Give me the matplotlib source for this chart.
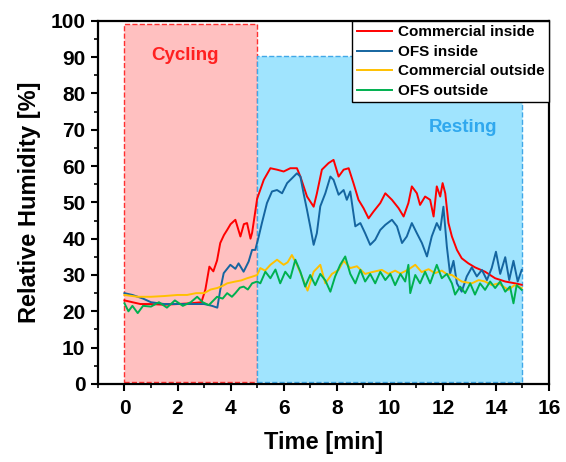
import matplotlib
matplotlib.use("Agg")
import matplotlib.pyplot as plt
from matplotlib.patches import Rectangle
from matplotlib.ticker import MultipleLocator

plt.rcParams['font.family'] = ['Liberation Sans', 'DejaVu Sans']
plt.rcParams['font.weight'] = 'bold'

# time [min] and relative humidity [%]
t_com_in = [0, 0.3, 0.6, 1.0, 1.5, 2.0, 2.5, 2.9, 3.05, 3.2, 3.35, 3.49, 3.61, 3.75,
            3.87, 4.0, 4.18, 4.37, 4.5, 4.62, 4.75, 4.81, 4.9, 5.0, 5.25, 5.5, 5.75,
            6.0, 6.25, 6.5, 6.63, 6.88, 7.13, 7.25, 7.44, 7.69, 7.88, 8.07, 8.26,
            8.45, 8.63, 8.82, 9.01, 9.2, 9.39, 9.64, 9.83, 10.08, 10.33, 10.52, 10.7,
            10.83, 11.02, 11.14, 11.33, 11.52, 11.65, 11.77, 11.9, 11.99, 12.09,
            12.21, 12.34, 12.53, 12.71, 12.96, 13.21, 13.59, 13.97, 14.35, 14.72, 14.97]
rh_com_in = [23, 22.5, 22, 22, 21.8, 22, 22.2, 22.5, 26, 32.3, 31, 34, 38.8, 41,
             42.4, 44, 45.2, 40.6, 44, 44.3, 40, 41.6, 46, 51, 56.2, 59.4, 59,
             58.5, 59.4, 59.4, 57.1, 51.6, 48.8, 52.4, 59, 60.8, 61.7, 57.1, 59,
             59.4, 55.3, 50.7, 48.4, 45.6, 47.5, 49.8, 52.5, 50.7, 48.4, 46.1, 49.8,
             54.4, 52.5, 49.3, 51.6, 50.7, 46.1, 54.4, 51.6, 55.3, 52.5,
             44.3, 40.6, 36.9, 34.6, 33.2, 32.1, 30.9, 29.1, 28.2, 27.7, 27.3]

t_ofs_in = [0, 0.3, 0.7, 1.0, 1.5, 2.0, 2.5, 3.0, 3.3, 3.5, 3.61, 3.74, 3.99, 4.18,
            4.3, 4.49, 4.68, 4.81, 4.93, 5.06, 5.18, 5.37, 5.56, 5.75, 5.94, 6.13,
            6.31, 6.5, 6.63, 6.75, 6.88, 7.0, 7.13, 7.25, 7.38, 7.57, 7.76, 7.88,
            8.07, 8.26, 8.38, 8.51, 8.7, 8.89, 9.07, 9.26, 9.45, 9.64, 9.83, 10.08,
            10.27, 10.46, 10.64, 10.83, 11.02, 11.21, 11.4, 11.58, 11.77, 11.9,
            12.02, 12.15, 12.27, 12.4, 12.53, 12.71, 12.9, 13.09, 13.28, 13.47,
            13.66, 13.84, 14.0, 14.16, 14.35, 14.5, 14.66, 14.82, 14.97]
rh_ofs_in = [25, 24.5, 23.5, 22.5, 22, 22, 22, 22, 21.5, 21, 25.9, 30.5, 32.8, 31.7,
             33.2, 30.9, 33.7, 36.9, 36.9, 40.6, 44.3, 49.8, 53, 53.4, 52.5, 55.3,
             56.6, 58, 57.1, 52.5, 47.9, 43.4, 38.3, 41.5, 48.9, 52.5, 57.1, 56.2,
             52.1, 53.4, 50.7, 53, 43.4, 44.3, 41.5, 38.3, 39.7, 42.4, 43.8, 45.2,
             43.4, 38.8, 40.6, 44.3, 41.5, 38.8, 35.1, 40.6, 44.3, 42.4,
             48.8, 37.8, 30.3, 33.9, 27.7, 25.4, 29.6, 32.1, 29.6, 31.4,
             28.6, 31.9, 36.4, 30.3, 34.9, 28.6, 33.9, 28.2, 31.4]

t_com_out = [0, 0.5, 1.0, 1.5, 2.0, 2.36, 2.7, 3.0, 3.25, 3.49, 3.7, 3.87, 4.18, 4.4,
             4.62, 4.8, 5.0, 5.12, 5.3, 5.5, 5.75, 6.0, 6.15, 6.31, 6.5, 6.75, 6.9,
             7.13, 7.38, 7.57, 7.82, 8.07, 8.26, 8.51, 8.76, 9.07, 9.39, 9.7, 9.95,
             10.2, 10.4, 10.7, 10.96, 11.2, 11.46, 11.7, 11.96, 12.15, 12.34, 12.71,
             13.09, 13.35, 13.59, 13.85, 14.1, 14.47, 14.7, 14.85, 14.97]
rh_com_out = [24.5, 24, 24, 24.2, 24.5, 24.5, 25, 25, 26, 26.4, 27, 27.7, 28.2, 28.5,
              29.1, 29.5, 30, 31.9, 31.2, 32.8, 34.2, 32.8, 33.5, 35.5, 32.8, 28.5, 25.7,
              30.9, 32.8, 27.7, 30.3, 31.4, 33.9, 31.9, 32.4, 30.3, 30.9, 31.4, 30.3,
              31.2, 30.4, 31.5, 32.8, 30.8, 31.6, 30.5, 31.2, 30.2, 30, 28.2,
              27.7, 28.6, 28.2, 27.2, 27.7, 25.9, 27.2, 26.8, 26.4]

t_ofs_out = [0, 0.15, 0.3, 0.5, 0.7, 1.0, 1.3, 1.6, 1.9, 2.2, 2.5, 2.74, 2.95, 3.18,
             3.49, 3.7, 3.87, 4.05, 4.18, 4.35, 4.49, 4.65, 4.81, 5.0, 5.12, 5.31,
             5.5, 5.69, 5.87, 6.06, 6.25, 6.44, 6.63, 6.81, 7.0, 7.19, 7.38, 7.57,
             7.76, 7.94, 8.13, 8.32, 8.51, 8.7, 8.89, 9.07, 9.26, 9.45, 9.64, 9.83,
             10.02, 10.2, 10.4, 10.58, 10.7, 10.77, 10.96, 11.14, 11.33, 11.52, 11.77,
             11.96, 12.15, 12.34, 12.46, 12.65, 12.84, 13.03, 13.21, 13.4, 13.59,
             13.78, 13.97, 14.16, 14.35, 14.53, 14.66, 14.78, 14.97]
rh_ofs_out = [22.2, 20, 21.5, 19.5, 21.5, 21.3, 22.5, 21, 23, 21.5, 22.5, 24, 22.5, 21.7,
              24, 23.5, 25, 24, 25, 26.5, 26.8, 26, 27.7, 28.2, 27.7, 30.9,
              29.1, 31.5, 27.7, 30.9, 29.1, 34.2, 30.9, 26.8, 30, 27.2, 30.3, 28.5,
              25.4, 29.6, 32.8, 35.1, 30.3, 27.7, 31.4, 28.2, 30.3, 27.7, 30.9, 28.6,
              30.3, 27.2, 30.3, 28.2, 32.8, 25, 30, 27.7, 30.9, 27.7, 32.8,
              29.1, 30.3, 27.7, 24.6, 26.8, 25, 27.7, 24.6, 27.7, 25.9,
              28.2, 26.4, 28.2, 25.4, 26.8, 22.2, 27.2, 25.9]

# shaded phases: (start, end, bottom, top)
cycling = (0, 5, 0.5, 99.2)
resting = (5, 15, 0.5, 90.2)

fig = plt.figure(figsize=(5.66, 4.62), dpi=100)
ax = fig.add_axes([0.173, 0.169, 0.797, 0.786])

ax.add_patch(Rectangle((cycling[0], cycling[2]), cycling[1] - cycling[0],
                       cycling[3] - cycling[2], facecolor='#FFC0C0',
                       edgecolor='#FF3030', linestyle='--', linewidth=1.0, zorder=1))
ax.add_patch(Rectangle((resting[0], resting[2]), resting[1] - resting[0],
                       resting[3] - resting[2], facecolor='#A0E4FE',
                       edgecolor='#40A8E8', linestyle='--', linewidth=1.0, zorder=1))

ax.plot(t_com_in, rh_com_in, color='#FF0000', lw=1.4, label='Commercial inside', zorder=3)
ax.plot(t_ofs_in, rh_ofs_in, color='#1565A0', lw=1.4, label='OFS inside', zorder=3)
ax.plot(t_com_out, rh_com_out, color='#FFC000', lw=1.4, label='Commercial outside', zorder=3)
ax.plot(t_ofs_out, rh_ofs_out, color='#00B050', lw=1.4, label='OFS outside', zorder=3)

ax.text(2.3, 90.5, 'Cycling', color='#FF2020', fontsize=13.5, fontweight='bold',
        ha='center', va='center')
ax.text(12.75, 70.5, 'Resting', color='#30A8EE', fontsize=13.5, fontweight='bold',
        ha='center', va='center')

ax.set_xlim(-1, 16)
ax.set_ylim(0, 100)
ax.xaxis.set_major_locator(MultipleLocator(2))
ax.xaxis.set_minor_locator(MultipleLocator(1))
ax.yaxis.set_major_locator(MultipleLocator(10))
ax.yaxis.set_minor_locator(MultipleLocator(5))
ax.tick_params(which='major', direction='out', length=5, width=1.5, labelsize=15)
ax.tick_params(axis='x', which='major', pad=6)
ax.tick_params(axis='y', which='major', pad=4)
ax.tick_params(which='minor', direction='out', length=3, width=1.2)
for lab in ax.get_xticklabels() + ax.get_yticklabels():
    lab.set_fontweight('bold')
for sp in ax.spines.values():
    sp.set_linewidth(1.6)

ax.set_xlabel('Time [min]', fontsize=17, fontweight='bold', labelpad=9)
ax.set_ylabel('Relative Humidity [%]', fontsize=17, fontweight='bold', labelpad=7)

leg = ax.legend(loc='upper right', fontsize=11, frameon=True, fancybox=False,
                borderaxespad=0, labelspacing=0.36, handlelength=2.3,
                handletextpad=0.4, borderpad=0.3, framealpha=1)
leg.get_frame().set_edgecolor('black')
leg.get_frame().set_linewidth(1.0)
for txt in leg.get_texts():
    txt.set_fontweight('bold')

fig.savefig('out.png', dpi=100)
